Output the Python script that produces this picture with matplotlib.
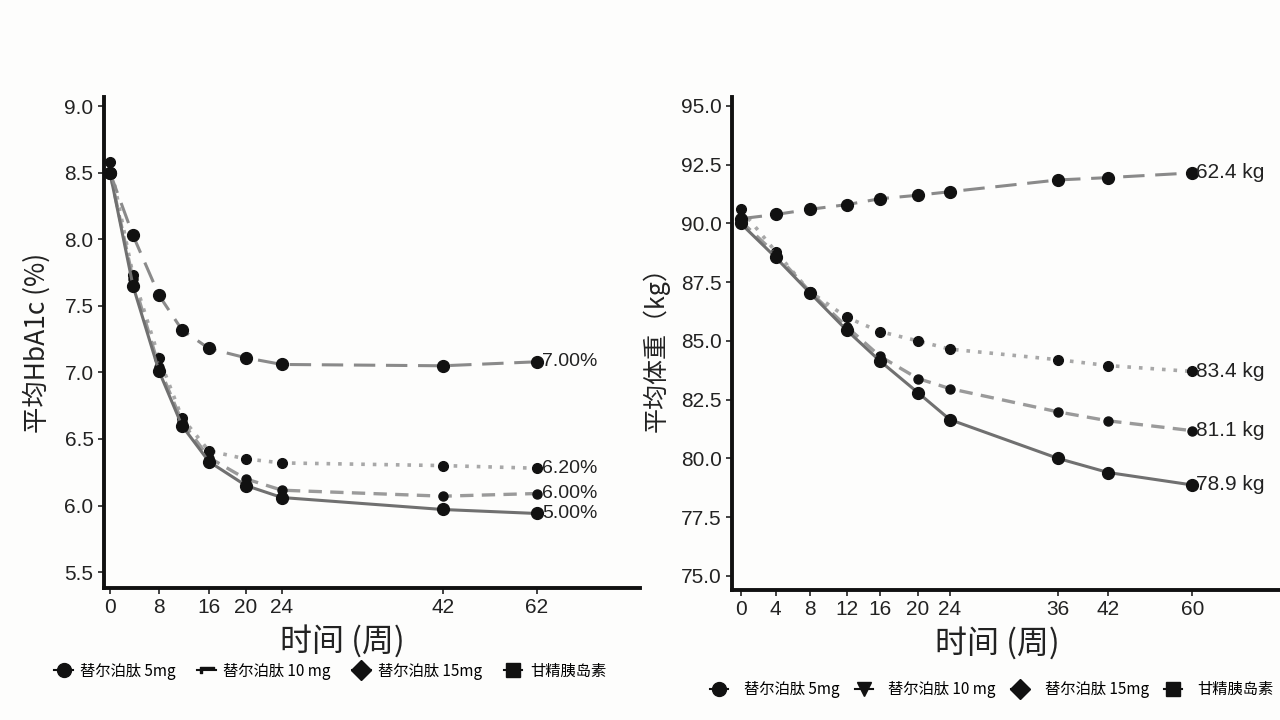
import numpy as np
import matplotlib
matplotlib.use("Agg")
import matplotlib.pyplot as plt
from matplotlib.lines import Line2D

plt.rcParams['font.family'] = ['Liberation Sans Narrow', 'Liberation Sans', 'Noto Sans CJK SC', 'DejaVu Sans']

# ---------------- data ----------------
weeks_a1c = [0, 4, 8, 12, 16, 20, 24, 42, 62]
a1c_5mg = [8.58, 7.73, 7.11, 6.66, 6.41, 6.35, 6.32, 6.30, 6.28]
a1c_10mg = [8.50, 7.70, 7.04, 6.63, 6.36, 6.20, 6.115, 6.07, 6.09]
a1c_15mg = [8.50, 7.65, 7.01, 6.60, 6.33, 6.15, 6.06, 5.97, 5.94]
a1c_glargine = [8.50, 8.03, 7.58, 7.32, 7.18, 7.11, 7.06, 7.05, 7.08]
a1c_end_labels = ["6.20%", "6.00%", "5.00%", "7.00%"]
a1c_xticks = [0, 8, 16, 20, 24, 42, 62]
a1c_yticks = [5.5, 6.0, 6.5, 7.0, 7.5, 8.0, 8.5, 9.0]

weeks_wt = [0, 4, 8, 12, 16, 20, 24, 36, 42, 60]
wt_5mg = [90.6, 88.8, 87.1, 86.0, 85.4, 85.0, 84.65, 84.2, 83.95, 83.7]
wt_10mg = [90.1, 88.7, 87.1, 85.6, 84.35, 83.4, 82.97, 81.98, 81.6, 81.18]
wt_15mg = [90.0, 88.55, 87.05, 85.45, 84.15, 82.8, 81.65, 80.0, 79.4, 78.87]
wt_glargine = [90.2, 90.38, 90.6, 90.8, 91.05, 91.2, 91.35, 91.85, 91.95, 92.15]
wt_end_labels = ["83.4 kg", "81.1 kg", "78.9 kg", "62.4 kg"]
wt_xticks = [0, 4, 8, 12, 16, 20, 24, 36, 42, 60]
wt_yticks = [75.0, 77.5, 80.0, 82.5, 85.0, 87.5, 90.0, 92.5, 95.0]

series_names = ["替尔泊肽 5mg", "替尔泊肽 10 mg", "替尔泊肽 15mg", "甘精胰岛素"]

# ---------------- styles ----------------
line_styles = [
    dict(color='#a8a8a8', ls=(0, (1, 2.2)), lw=2.6, ms=7),
    dict(color='#9a9a9a', ls=(0, (4, 2.5)), lw=2.4, ms=6.5),
    dict(color='#707070', ls='-', lw=2.2, ms=8.5),
    dict(color='#8a8a8a', ls=(0, (7, 3.5)), lw=2.2, ms=8.5),
]


def make_scale(anchor_w, anchor_p):
    aw = np.asarray(anchor_w, float)
    ap = np.asarray(anchor_p, float)

    def fwd(x):
        return np.interp(x, aw, ap)

    def inv(p):
        return np.interp(p, ap, aw)
    return fwd, inv


fig = plt.figure(figsize=(12.8, 7.2), dpi=100)
fig.patch.set_facecolor('#fdfdfc')

axL = fig.add_axes([104 / 1280, 1 - 588 / 720, (640 - 104) / 1280, (588 - 97) / 720])
axR = fig.add_axes([732 / 1280, 1 - 590 / 720, (1280 - 732) / 1280, (590 - 97) / 720])

# piecewise display mapping of weeks (axis is not linear in the reference)
fL = make_scale([-20, 0, 4, 8, 12, 16, 20, 24, 42, 62, 200],
                [0, 110, 133, 159, 182, 209, 246, 282, 443, 537, 1186])
fR = make_scale([-20, 0, 4, 8, 12, 16, 20, 24, 36, 42, 60, 200],
                [567, 741, 776, 810, 847, 880, 918, 950, 1058, 1108, 1192, 1845])

for ax, f in ((axL, fL), (axR, fR)):
    ax.set_facecolor('#fdfdfc')
    ax.set_xscale('function', functions=f)
    for s in ('top', 'right'):
        ax.spines[s].set_visible(False)
    for s in ('left', 'bottom'):
        ax.spines[s].set_linewidth(2.8)
        ax.spines[s].set_color('#111111')
    ax.tick_params(axis='both', labelsize=15, width=1.2, length=4, color='#222222',
                   labelcolor='#222222')

# ---- left panel ----
a1c_series = [a1c_5mg, a1c_10mg, a1c_15mg, a1c_glargine]
for vals, st, lab in zip(a1c_series, line_styles, a1c_end_labels):
    axL.plot(weeks_a1c, vals, color=st['color'], ls=st['ls'], lw=st['lw'],
             marker='o', ms=st['ms'], mfc='#111111', mec='#111111', zorder=3)
    axL.annotate(lab, (weeks_a1c[-1], vals[-1]), xytext=(4, 0), textcoords='offset points',
                 va='center', ha='left', fontsize=14, color='#222222')
axL.set_xlim(-1.1, 84)
axL.set_ylim(5.38, 9.07)
axL.set_xticks(a1c_xticks)
axL.set_xticklabels([str(t) for t in a1c_xticks])
axL.set_yticks(a1c_yticks)
axL.set_yticklabels([f"{t:.1f}" for t in a1c_yticks])
axL.set_ylabel("平均HbA1c (%)", fontsize=19, family=['Noto Sans CJK SC'], labelpad=10,
               color='#222222')
axL.set_xlabel("时间 (周)", fontsize=23, family=['Noto Sans CJK SC'], labelpad=0,
               color='#222222')
axL.xaxis.set_label_coords((342 - 104) / 536, -0.075)

# ---- right panel ----
wt_series = [wt_5mg, wt_10mg, wt_15mg, wt_glargine]
for vals, st, lab in zip(wt_series, line_styles, wt_end_labels):
    axR.plot(weeks_wt, vals, color=st['color'], ls=st['ls'], lw=st['lw'],
             marker='o', ms=st['ms'], mfc='#111111', mec='#111111', zorder=3)
    axR.annotate(lab, (weeks_wt[-1], vals[-1]), xytext=(3, 0), textcoords='offset points',
                 va='center', ha='left', fontsize=15, color='#222222')
axR.set_xlim(-1.0, 78.8)
axR.set_ylim(74.4, 95.38)
axR.set_xticks(wt_xticks)
axR.set_xticklabels([str(t) for t in wt_xticks])
axR.set_yticks(wt_yticks)
axR.set_yticklabels([f"{t:.1f}" for t in wt_yticks])
axR.set_ylabel("平均体重（kg）", fontsize=18, family=['Noto Sans CJK SC'], labelpad=8,
               color='#222222')
axR.set_xlabel("时间 (周)", fontsize=23, family=['Noto Sans CJK SC'], labelpad=0,
               color='#222222')
axR.xaxis.set_label_coords((997 - 732) / 548, -0.075)

# ---- legends ----
markers_L = ['o', '$\u2310$', 'D', 's']
markers_R = ['o', 'v', 'D', 's']
legend_font = dict(family=['Noto Sans CJK SC', 'DejaVu Sans'], size=11)


def handles(mk):
    return [Line2D([0], [0], color='#111111', lw=1.5, marker=m, ms=10,
                   mfc='#111111', mec='#111111') for m in mk]


fig.legend(handles(markers_L), series_names, loc='center', bbox_to_anchor=(0.258, 0.068),
           ncol=4, frameon=False, prop=legend_font, handlelength=1.2, columnspacing=1.4,
           handletextpad=0.5)
fig.legend(handles(markers_R), series_names, loc='center', bbox_to_anchor=(0.775, 0.042),
           ncol=4, frameon=False, prop=legend_font, handlelength=1.2, columnspacing=1.0,
           handletextpad=1.0)

fig.savefig("out.png", dpi=100, facecolor=fig.get_facecolor())
